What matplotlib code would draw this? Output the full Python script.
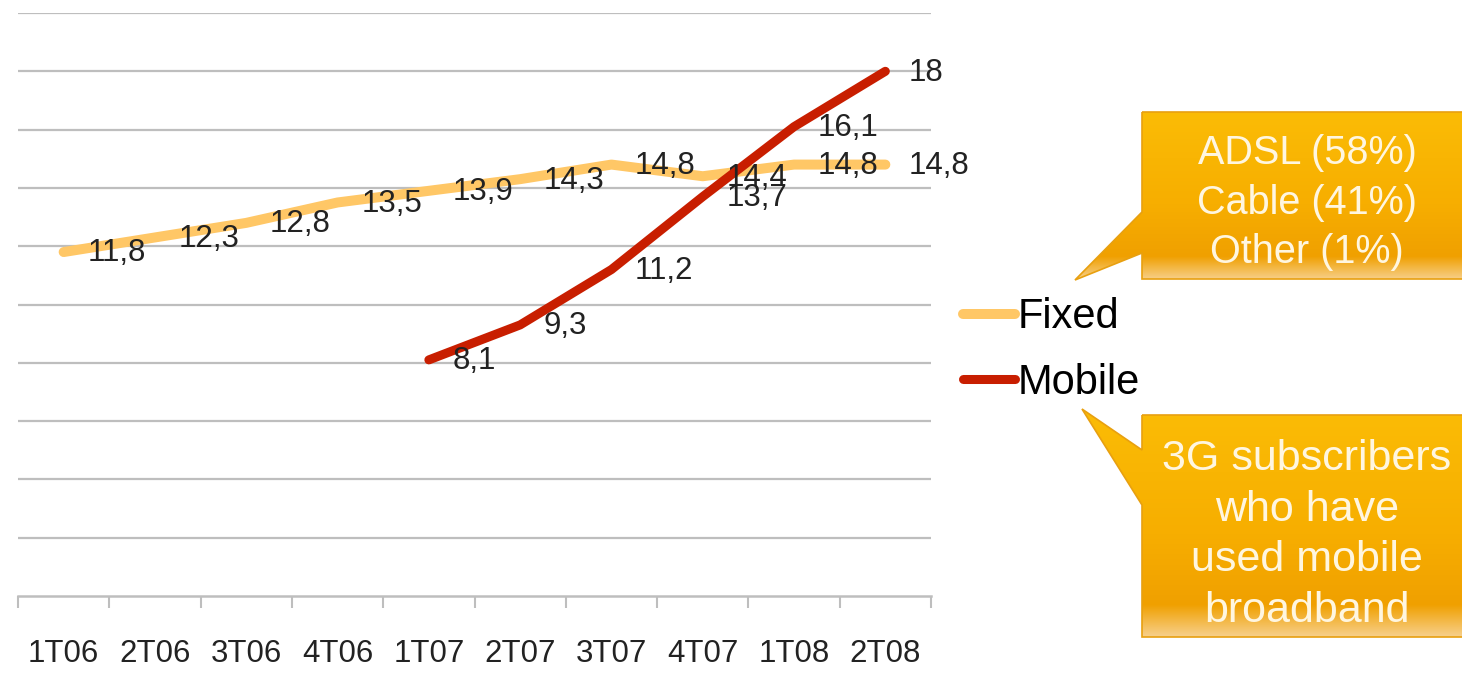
import numpy as np
import matplotlib
matplotlib.use("Agg")
import matplotlib.pyplot as plt
import matplotlib.patches as patches
from matplotlib.colors import LinearSegmentedColormap

# ---------------- data ----------------
quarters = ["1T06", "2T06", "3T06", "4T06", "1T07", "2T07", "3T07", "4T07", "1T08", "2T08"]
fixed = [11.8, 12.3, 12.8, 13.5, 13.9, 14.3, 14.8, 14.4, 14.8, 14.8]
mobile_quarters = ["1T07", "2T07", "3T07", "4T07", "1T08", "2T08"]
mobile = [8.1, 9.3, 11.2, 13.7, 16.1, 18]
callout_fixed = "ADSL (58%)\nCable (41%)\nOther (1%)"
callout_mobile = "3G subscribers\nwho have\nused mobile\nbroadband"

FONT = ["Liberation Sans", "DejaVu Sans"]
plt.rcParams["font.family"] = FONT

W, H = 1462, 673
fig = plt.figure(figsize=(W / 100, H / 100), dpi=100)
ax = fig.add_axes([18 / W, 1 - 596 / H, 913 / W, 583 / H])

xf = np.arange(len(quarters))
xm = np.array([quarters.index(q) for q in mobile_quarters])

grid_c = "#BEBEBE"
ax.set_ylim(0, 20)
ax.set_xlim(-0.5, len(quarters) - 0.5)
ax.set_yticks(np.arange(2, 21, 2))
ax.yaxis.grid(True, color=grid_c, lw=1.6)
ax.set_axisbelow(True)
ax.tick_params(axis="y", left=False, labelleft=False)
for s in ["left", "top", "right"]:
    ax.spines[s].set_visible(False)
ax.spines["bottom"].set_color(grid_c)
ax.spines["bottom"].set_linewidth(1.8)

ax.set_xticks(xf)
ax.set_xticklabels(quarters, fontsize=22.5, color="#222222")
ax.tick_params(axis="x", which="major", length=0, pad=31)
ax.set_xticks(np.arange(-0.5, len(quarters), 1), minor=True)
ax.tick_params(axis="x", which="minor", length=8.5, width=1.5, color=grid_c)

ax.plot(xf, fixed, color="#FFC766", lw=7.2, solid_capstyle="round",
        solid_joinstyle="round", label="Fixed", zorder=3)
ax.plot(xm, mobile, color="#C81E00", lw=6.5, solid_capstyle="round",
        solid_joinstyle="round", label="Mobile", zorder=4)

for x, v in zip(xf, fixed):
    ax.annotate(f"{v:.1f}".replace(".", ","), (x, v), xytext=(17, -1),
                textcoords="offset points", ha="left", va="center",
                fontsize=22.5, color="#222222", zorder=5)
for x, v in zip(xm, mobile):
    s = f"{v:g}".replace(".", ",")
    ax.annotate(s, (x, v), xytext=(17, -1), textcoords="offset points",
                ha="left", va="center", fontsize=22.5, color="#222222", zorder=5)

fig.legend(loc="center left", bbox_to_anchor=(963 / W, 1 - 350 / H),
           frameon=False, fontsize=30, handlelength=1.25, handletextpad=0.05,
           borderaxespad=0, borderpad=0, labelspacing=0.62)

# ---------------- callouts ----------------
ov = fig.add_axes([0, 0, 1, 1])
ov.set_xlim(0, W)
ov.set_ylim(H, 0)
ov.axis("off")

cmap = LinearSegmentedColormap.from_list(
    "callout", [(0, "#FBBC06"), (0.55, "#F7AE00"), (0.86, "#F0A000"), (1.0, "#F7D08C")])
grad = np.linspace(0, 1, 256).reshape(-1, 1)


def callout(box, tip, base, text, size, lsp, dy):
    x0, y0, x1, y1 = box
    verts = [(x0, y0), (x1, y0), (x1, y1), (x0, y1), (x0, base[1]), tip, (x0, base[0])]
    poly = patches.Polygon(verts, closed=True, facecolor="none",
                           edgecolor="#E8A010", lw=1.2, zorder=3)
    ov.add_patch(poly)
    top = min(y0, tip[1])
    bot = max(y1, tip[1])
    img = ov.imshow(grad, cmap=cmap, aspect="auto",
                    extent=(tip[0], x1, bot, top), zorder=2)
    img.set_clip_path(poly)
    ov.text(1307, (y0 + y1) / 2 + dy, text, ha="center", va="center",
            fontsize=size, color="#FFF6E0", linespacing=lsp, zorder=4)


callout((1142, 112, 1475, 279), (1075, 280), (212, 253), callout_fixed, 28.5, 1.37, 7)
callout((1142, 415, 1475, 637), (1082, 409), (450, 505), callout_mobile, 31, 1.34, 9)
ov.set_xlim(0, W)
ov.set_ylim(H, 0)

fig.savefig("out.png", dpi=100)
